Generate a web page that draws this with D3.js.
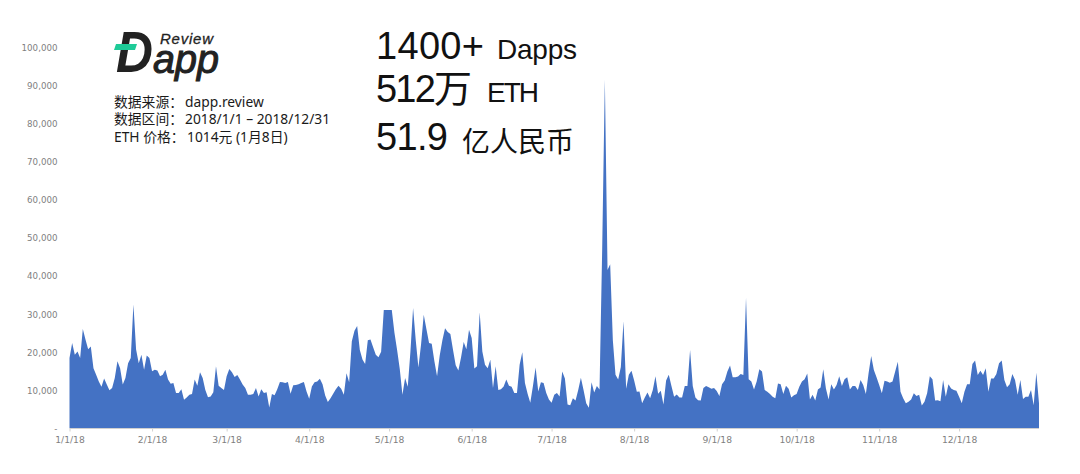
<!DOCTYPE html>
<html>
<head>
<meta charset="utf-8">
<script src="https://cdn.jsdelivr.net/npm/d3@7"></script>
<style>
    html, body { margin: 0; padding: 0; background: #fff; }
    svg { display: block; }
    .axis text { font-family: "DejaVu Sans", sans-serif; fill: #7f7f7f; }
    .note { font-family: "Noto Sans", "Noto Sans CJK SC", sans-serif; fill: #1a1a1a; }
    .big { font-family: "Liberation Sans", "Noto Sans CJK SC", sans-serif; fill: #111; }
</style>
</head>
<body>
<div id="chart"></div>
<script>
// daily volume per month, in thousands of ETH
const jan = [18.4,22.3,19.2,20.1,18.4,26,23.2,20.7,21.4,15.7,14,12.2,10.8,13,11.4,9.9,10.5,13.1,17.5,15.7,11.4,13.1,17,18.4,32.4,20.6,17,19.2,15.3,19,18.4];
const feb = [14.9,15.3,15.1,13.6,14,15.3,12.7,11.6,11.8,9.2,9.2,10.2,7.4,8,8.7,8.9,12.7,11.1,14.6,13.1,10,8.1,8.3,9.4,16.2,11.1,10.5,10];
const mar = [13.6,15.5,14.6,13.4,13.9,12.7,11.4,10.5,8.7,8.7,8.9,10.5,8.3,10.2,9.2,9.4,5.4,8.9,8.6,10.2,12.1,12,11.8,12.1,9,11.2,11.3,11.5,11.8,12.1,9.6];
const apr = [7.7,10.9,12,12.2,12.9,11.5,8.5,6.8,7.8,9,10.2,11.1,10.3,8.7,14.4,12,22.8,25.5,26.8,20.5,18,16.8,23,23.2,21.2,19.2,18.6,20,31,31];
const may = [31,31,25,20.5,15.5,8.7,13.1,10.8,20,31.5,23,15.9,22,29.7,26,22.3,22.1,17.5,13.6,19,23,26.2,25.2,24.7,20.5,16.5,15.1,18.5,22.6,20.7,25.8];
const jun = [23.6,15.6,16.2,30.4,20.1,16.6,15.7,17.9,10.5,16.2,10,10.2,10.9,12.7,11.1,10.8,9.2,9.2,16.6,19.9,11.8,9,6.6,11,15.9,9.6,12,11.8,9.2,7.5];
const jul = [6.6,8.7,9.2,8.3,14.8,13,6.2,6,7.8,7.2,10,13.2,10,6.5,5.3,12,9.3,11,10.1,47,91.5,41.5,43,23,14,12.7,16,28,10.3,14,15];
const aug = [12.5,9.5,9.6,6.5,8,9.3,7.8,10,13.6,9,9.8,6.2,12.5,14,11,8.2,8.8,8,8,11,11,20.5,11,8,7.3,7.2,10.5,11,10.7,10.3,10.5];
const sep = [9.7,8.4,11.5,12.5,14.8,16.4,13.3,13.3,13.5,14.2,13.9,34.2,12.8,12.2,10.1,12.2,15.4,14.8,10,9.5,8.9,8.2,7.8,11.7,11.5,8.9,11.1,10.3,8,8.6];
const oct = [8.9,10.8,12.2,12.8,14.3,7.5,8.7,7.2,10.1,10.6,15.4,10.4,7.5,11.5,10.1,11.3,13.6,11,12.8,13.3,10.1,11,11,10,12.6,11.3,8.9,14.3,18.9,15.2,13.3];
const nov = [11.3,9.1,12.4,12.2,11.9,12.2,14.8,17.4,9.5,7.8,6.5,6.9,7.5,9.1,8.4,8.7,5.9,6.9,9.1,13.6,12.8,7.2,7.3,7,12.6,8.2,11.5,10.4,10,9.8];
const dec = [8.2,6.5,9.5,11.5,11.5,16.8,17.7,13.9,15,13.9,15.7,9.5,13,13,14.2,17,17.7,12.6,10.7,11.5,14.2,12.6,8.7,12.6,7.6,8.2,8.2,10,6,14.5,6.5];

const months = [jan, feb, mar, apr, may, jun, jul, aug, sep, oct, nov, dec];
const yTicks = [0, 10000, 20000, 30000, 40000, 50000, 60000, 70000, 80000, 90000, 100000];

const summaryNums = ['1400+', '512万', '51.9'];
const summaryUnits = ['Dapps', 'ETH', '亿人民币'];
const noteLabels = ['数据来源：', '数据区间：', 'ETH 价格：'];
const noteValues = ['dapp.review', '2018/1/1 – 2018/12/31', '1014元 (1月8日)'];

const width = 1080, height = 474;

var points = [];
months.forEach((vals, m) => {
    vals.forEach((v, i) => {
        points.push({ date: new Date(Date.UTC(2018, m, i + 1)), value: v * 1000 });
    });
});

const svg = d3.select('#chart').append('svg')
    .attr('width', width)
    .attr('height', height);

const x = d3.scaleUtc()
    .domain([new Date(Date.UTC(2018, 0, 1)), new Date(Date.UTC(2018, 11, 31))])
    .range([69.5, 1039]);
const y = d3.scaleLinear()
    .domain([0, 100000])
    .range([428, 47]);

const area = d3.area()
    .x(d => x(d.date))
    .y0(y(0))
    .y1(d => y(d.value));

svg.append('path')
    .datum(points)
    .attr('fill', '#4472c4')
    .attr('d', area);

// axes
const yAxis = svg.append('g')
    .attr('class', 'axis')
    .attr('transform', 'translate(61.5,0.6)')
    .call(d3.axisLeft(y)
        .tickValues(yTicks)
        .tickSize(0)
        .tickPadding(4)
        .tickFormat(d => d === 0 ? '-' : d3.format(',')(d)));
yAxis.select('.domain').remove();
yAxis.selectAll('text').attr('font-size', 8.7);

const monthStarts = months.map((_, m) => new Date(Date.UTC(2018, m, 1)));
const xAxis = svg.append('g')
    .attr('class', 'axis')
    .attr('transform', 'translate(0,428.5)')
    .call(d3.axisBottom(x)
        .tickValues(monthStarts)
        .tickSize(3)
        .tickPadding(5)
        .tickFormat(d3.utcFormat('%-m/%-d/%y')));
xAxis.select('.domain').attr('stroke', '#d0d0d0').attr('d', 'M69.5,0H1039');
xAxis.selectAll('line').attr('stroke', '#d0d0d0');
xAxis.selectAll('text').attr('font-size', 9.2);

// big summary on top
const summaryY = [59, 102, 150];
const unitY = [59, 102, 152];
const unitX = [497, 487, 462];
const unitLen = [80, 52, null];
summaryNums.forEach((t, i) => {
    svg.append('text').attr('class', 'big')
        .attr('x', 376).attr('y', summaryY[i])
        .attr('font-size', 38)
        .attr('textLength', [108, 96, 72][i])
        .text(t);
    var unit = svg.append('text').attr('class', 'big')
        .attr('x', unitX[i]).attr('y', unitY[i])
        .attr('font-size', 28)
        .text(summaryUnits[i]);
    if (unitLen[i]) unit.attr('textLength', unitLen[i]);
});

// source notes
const noteY = [107, 124, 142];
const valueX = [185, 185, 187];
noteLabels.forEach((t, i) => {
    svg.append('text').attr('class', 'note')
        .attr('x', 114).attr('y', noteY[i])
        .attr('font-size', 13.8)
        .text(t);
    svg.append('text').attr('class', 'note')
        .attr('x', valueX[i]).attr('y', noteY[i])
        .attr('font-size', 13.8)
        .text(noteValues[i]);
});

// logo
const logo = svg.append('g').attr('font-family', '"Liberation Sans", sans-serif').attr('fill', '#222');
logo.append('text')
    .attr('x', 116).attr('y', 72)
    .attr('font-size', 57).attr('font-weight', 700).attr('font-style', 'italic')
    .attr('textLength', 37).attr('lengthAdjust', 'spacingAndGlyphs')
    .text('D');
logo.append('text')
    .attr('x', 153).attr('y', 73)
    .attr('font-size', 40).attr('font-style', 'italic')
    .attr('textLength', 66).attr('lengthAdjust', 'spacingAndGlyphs')
    .attr('stroke', '#222').attr('stroke-width', 1)
    .text('app');
logo.append('text')
    .attr('x', 160).attr('y', 44)
    .attr('font-size', 15).attr('font-style', 'italic')
    .attr('stroke', '#222').attr('stroke-width', 0.3)
    .attr('textLength', 53)
    .text('Review');
logo.append('path')
    .attr('fill', '#1ecb98')
    .attr('d', 'M116,44H137L135,50H114Z');
</script>
</body>
</html>
